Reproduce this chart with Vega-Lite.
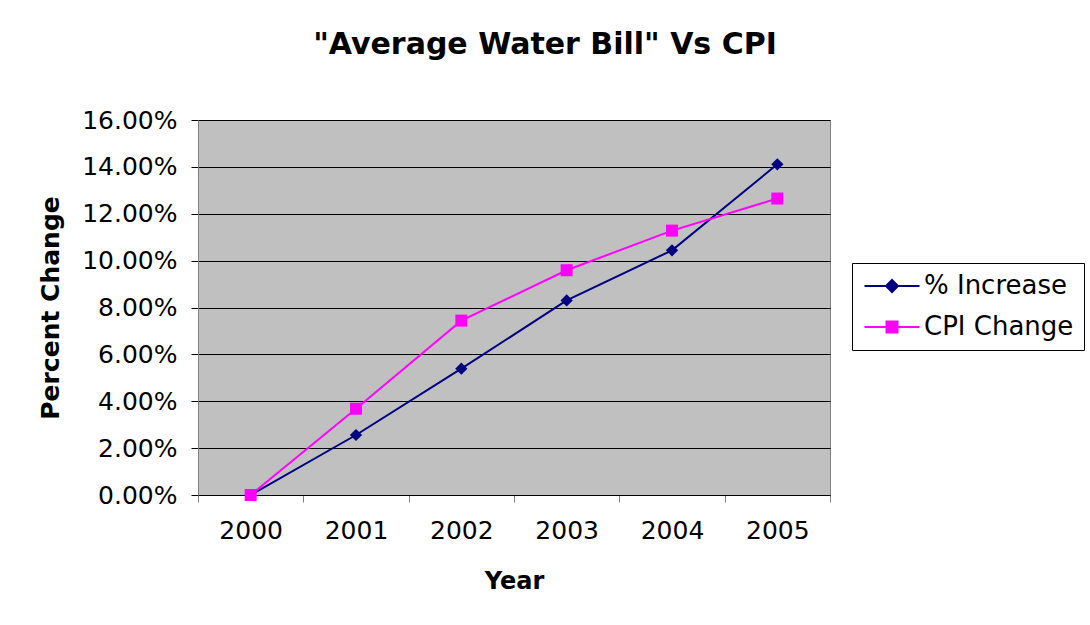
{
  "$schema": "https://vega.github.io/schema/vega-lite/v6.json",
  "width": 632,
  "height": 375,
  "autosize": {"type": "none"},
  "padding": {"left": 198, "top": 120, "right": 260, "bottom": 130},
  "background": "white",
  "title": {
    "text": "\"Average Water Bill\" Vs CPI",
    "font": "DejaVu Sans",
    "fontSize": 30,
    "fontWeight": "bold",
    "color": "black",
    "anchor": "middle",
    "dx": 31,
    "baseline": "bottom",
    "offset": 18
  },
  "config": {
    "view": {"fill": "#C0C0C0", "stroke": "#808080", "strokeWidth": 1}
  },
  "data": {
    "values": [
      {"year": "2000", "series": "% Increase", "value": 0.0},
      {"year": "2001", "series": "% Increase", "value": 0.0256},
      {"year": "2002", "series": "% Increase", "value": 0.0539},
      {"year": "2003", "series": "% Increase", "value": 0.0830},
      {"year": "2004", "series": "% Increase", "value": 0.1044},
      {"year": "2005", "series": "% Increase", "value": 0.1411},
      {"year": "2000", "series": "CPI Change", "value": 0.0},
      {"year": "2001", "series": "CPI Change", "value": 0.0368},
      {"year": "2002", "series": "CPI Change", "value": 0.0744},
      {"year": "2003", "series": "CPI Change", "value": 0.0959},
      {"year": "2004", "series": "CPI Change", "value": 0.1128},
      {"year": "2005", "series": "CPI Change", "value": 0.1265}
    ]
  },
  "encoding": {
    "x": {
      "field": "year",
      "type": "ordinal",
      "bandPosition": 0.5,
      "scale": {"type": "band", "paddingInner": 0, "paddingOuter": 0},
      "axis": {
        "title": "Year",
        "titleFont": "DejaVu Sans",
        "titleFontSize": 24,
        "titleFontWeight": "bold",
        "titleColor": "black",
        "titlePadding": 26,
        "labelFont": "DejaVu Sans",
        "labelFontSize": 25,
        "labelColor": "black",
        "labelAngle": 0,
        "labelPadding": 16,
        "tickBand": "extent",
        "tickSize": 7,
        "tickColor": "#808080",
        "domainColor": "black",
        "grid": false
      }
    },
    "y": {
      "field": "value",
      "type": "quantitative",
      "scale": {"domain": [0, 0.16], "nice": false},
      "axis": {
        "title": "Percent Change",
        "titleFont": "DejaVu Sans",
        "titleFontSize": 25,
        "titleFontWeight": "bold",
        "titleColor": "black",
        "titlePadding": 18,
        "values": [0, 0.02, 0.04, 0.06, 0.08, 0.1, 0.12, 0.14, 0.16],
        "format": ".2%",
        "labelFont": "DejaVu Sans",
        "labelFontSize": 25,
        "labelColor": "black",
        "labelPadding": 14,
        "tickSize": 7,
        "tickColor": "black",
        "domainColor": "#808080",
        "grid": true,
        "gridColor": "black",
        "gridWidth": 1,
        "gridOpacity": 1
      }
    },
    "color": {
      "field": "series",
      "type": "nominal",
      "scale": {"domain": ["% Increase", "CPI Change"], "range": ["#000080", "#FF00FF"]},
      "legend": {
        "orient": "none",
        "legendX": 654,
        "legendY": 143,
        "title": null,
        "strokeColor": "black",
        "fillColor": "white",
        "padding": 10,
        "labelFont": "DejaVu Sans",
        "labelFontSize": 26,
        "labelColor": "black",
        "labelOffset": 19,
        "symbolSize": 400,
        "symbolOffset": 17,
        "symbolStrokeWidth": 1.5,
        "rowPadding": 15,
        "encode": {
          "symbols": {
            "update": {
              "shape": {"signal": "datum.value === '% Increase' ? 'M-2.75,0L2.75,0M0,-0.6L0.6,0L0,0.6L-0.6,0Z' : 'M-2.75,0L2.75,0M-0.55,-0.55L0.55,-0.55L0.55,0.55L-0.55,0.55Z'"},
              "size": {"value": 400},
              "fill": {"signal": "datum.value === '% Increase' ? '#000080' : '#FF00FF'"},
              "stroke": {"signal": "datum.value === '% Increase' ? '#000080' : '#FF00FF'"},
              "strokeWidth": {"value": 2},
              "opacity": {"value": 1}
            }
          }
        }
      }
    }
  },
  "layer": [
    {
      "mark": {"type": "line", "strokeWidth": 2}
    },
    {
      "transform": [{"filter": "datum.series === '% Increase'"}],
      "mark": {"type": "point", "filled": true, "opacity": 1, "shape": "diamond", "size": 150}
    },
    {
      "transform": [{"filter": "datum.series === 'CPI Change'"}],
      "mark": {"type": "point", "filled": true, "opacity": 1, "shape": "square", "size": 144}
    }
  ]
}
